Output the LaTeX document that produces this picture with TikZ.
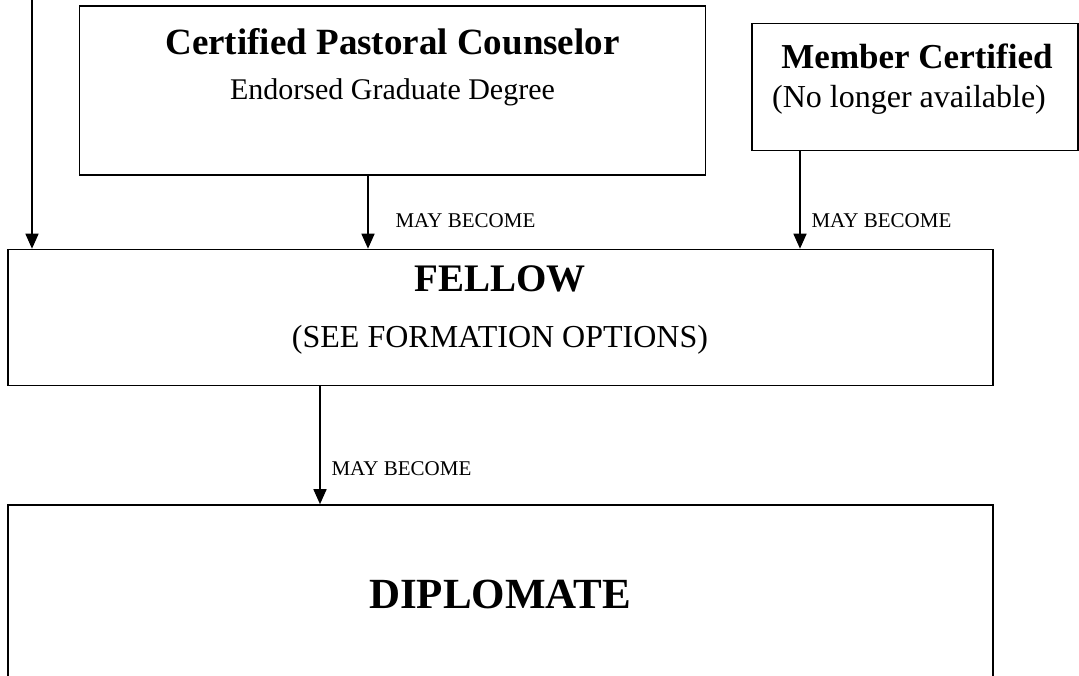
\documentclass[tikz,border=0pt]{standalone}
\usepackage{fontspec}
\setmainfont{Liberation Serif}
\usetikzlibrary{arrows.meta}

\begin{document}
\begin{tikzpicture}[x=1pt,y=-1pt,
	box/.style={draw, line width=1.6pt, inner sep=0pt},
	link/.style={line width=1.6pt, -{Triangle[width=13pt,length=15pt]}},
	lbl/.style={anchor=base west, font=\fontsize{21}{24}\selectfont}]
	\useasboundingbox (0,0) rectangle (1079,675);
	
	\coordinate (fromtop) at (32,-10);
	
	\node[box, minimum width=626pt, minimum height=169pt] (cpc) at (392.5,90.5) {};
	\node[box, minimum width=326pt, minimum height=127pt] (member) at (915,87) {};
	\node[box, minimum width=985pt, minimum height=136pt] (fellow) at (500.5,317.5) {};
	\node[box, minimum width=985pt, minimum height=220pt] (diplomate) at (500.5,615) {};
	
	\node[anchor=base, font=\bfseries\fontsize{37}{42}\selectfont] (cpctitle) at (392.5,54) {Certified Pastoral Counselor};
	\node[anchor=base, font=\fontsize{30}{34}\selectfont] (cpcsub) at (392.5,99) {Endorsed Graduate Degree};
	\node[anchor=base, font=\bfseries\fontsize{35}{40}\selectfont] (membertitle) at (917,68) {Member Certified};
	\node[anchor=base, font=\fontsize{32}{36}\selectfont] (membersub) at (909,107) {(No longer available)};
	\node[anchor=base, font=\bfseries\fontsize{39}{44}\selectfont] (fellowtitle) at (500,291) {FELLOW};
	\node[anchor=base, font=\fontsize{32}{36}\selectfont] (fellowsub) at (500,347) {(SEE FORMATION OPTIONS)};
	\node[anchor=base, font=\bfseries\fontsize{43}{48}\selectfont] (diplomatetitle) at (500,608) {DIPLOMATE};
	
	\draw[link] (fromtop) -- (fromtop |- fellow.north);
	\draw[link] ([xshift=-24.5pt]cpc.south) -- ([xshift=-24.5pt]cpc.south |- fellow.north);
	\draw[link] ([xshift=-115pt]member.south) -- ([xshift=-115pt]member.south |- fellow.north);
	\draw[link] ([xshift=-180.5pt]fellow.south) -- ([xshift=-180.5pt]fellow.south |- diplomate.north);
	
	\node[lbl] (maycpc) at (392,227) {MAY BECOME};
	\node[lbl] (maymember) at (808,227) {MAY BECOME};
	\node[lbl] (mayfellow) at (328,475) {MAY BECOME};
\end{tikzpicture}
\end{document}
